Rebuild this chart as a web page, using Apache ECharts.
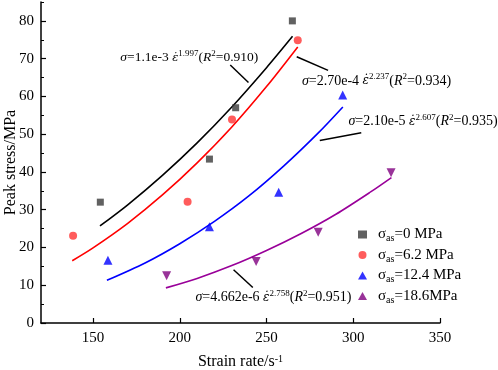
<!DOCTYPE html>
<html><head><meta charset="utf-8">
<script src="https://cdn.jsdelivr.net/npm/echarts@6/dist/echarts.min.js"></script>
<style>html,body{margin:0;padding:0;background:#fff}#c{width:498px;height:370px}</style>
</head><body><div id="c"></div>
<script>
// ---- data ----
const xTicks = [150, 200, 250, 300, 350];
const yTicks = [0, 10, 20, 30, 40, 50, 60, 70, 80];
const groupLabels = ['0 MPa', '6.2 MPa', '12.4 MPa', '18.6MPa'];

const s0X = [154.2, 217.1, 232.2, 264.9], s0Y = [32.0, 43.4, 57.0, 80.0];
const s1X = [138.5, 204.5, 230.1, 268.0], s1Y = [23.1, 32.1, 53.9, 74.9];
const s2X = [158.6, 217.1, 257.0, 293.9], s2Y = [16.6, 25.5, 34.6, 60.4];
const s3X = [192.4, 244.0, 279.8, 321.8], s3Y = [12.5, 16.3, 24.0, 39.8];

const fit0X = [154, 170, 190, 210, 230, 250, 265];
const fit0Y = [25.7, 31.3, 39.1, 47.7, 57.2, 67.6, 75.9];
const fit1X = [138, 150, 170, 190, 210, 230, 250, 268];
const fit1Y = [16.5, 19.9, 26.4, 33.9, 42.4, 51.9, 62.6, 73.1];
const fit2X = [158, 180, 200, 220, 240, 260, 280, 294];
const fit2Y = [11.3, 15.9, 21.0, 26.9, 33.7, 41.6, 50.4, 57.2];
const fit3X = [192, 210, 230, 250, 270, 290, 310, 322];
const fit3Y = [9.3, 11.8, 15.2, 19.2, 23.7, 28.8, 34.7, 38.5];

const fitCoef = ['1.1e-3', '2.70e-4', '2.10e-5', '4.662e-6'];
const fitExp = ['1.997', '2.237', '2.607', '2.758'];
const fitR2 = ['0.910', '0.934', '0.935', '0.951'];

// annotation placement (data coordinates)
const labelAt = [[205.5, 70.2], [313.4, 64.1], [340.2, 53.3], [254, 6.7]];
const leaderFrom = [[229.1, 68.3], [267.4, 70.5], [280.7, 48.3], [231, 14.1]];
const leaderTo = [[239.6, 63.7], [285.5, 66.9], [304.6, 50.4], [242.1, 9.4]];

// ---- build ----
const zip = (a, b) => a.map((v, i) => [v, b[i]]);
const scatX = [s0X, s1X, s2X, s3X], scatY = [s0Y, s1Y, s2Y, s3Y];
const fitX = [fit0X, fit1X, fit2X, fit3X], fitY = [fit0Y, fit1Y, fit2Y, fit3Y];
const markerColors = ['#3a3a3a', '#ff3333', '#0000ff', '#800080'];
const lineColors = ['#000000', '#ff0000', '#0000ff', '#990099'];
const symbols = ['rect', 'circle', 'triangle', 'triangle'];
const symRot = [0, 0, 0, 180];
const symSize = [7, 8, 9, 9];
const serif = '"Liberation Serif", "Times New Roman", serif';
const eqSize = [13.5, 14, 14, 14];

function richEq(fs) {
  return {
    i: { fontFamily: serif, fontSize: fs, fontStyle: 'italic', color: '#000', lineHeight: 18 },
    e: { fontFamily: '"DejaVu Serif", serif', fontSize: fs - 2, fontStyle: 'italic', color: '#000', lineHeight: 18 },
    n: { fontFamily: serif, fontSize: fs, color: '#000', lineHeight: 18 },
    sup: { fontFamily: serif, fontSize: 9, color: '#000', lineHeight: 11, verticalAlign: 'top' }
  };
}

const series = [];
for (let k = 0; k < 4; k++) {
  series.push({
    name: 's' + k, type: 'scatter', data: zip(scatX[k], scatY[k]),
    symbol: symbols[k], symbolRotate: symRot[k], symbolSize: symSize[k],
    itemStyle: { color: markerColors[k] }, z: 3
  });
}
for (let k = 0; k < 4; k++) {
  const txt = '{i|σ}{n|=' + fitCoef[k] + ' }{e|\u03B5\u0307}{sup|' + fitExp[k] + '}{n|(}{i|R}{sup|2}{n|=' + fitR2[k] + ')}';
  series.push({
    name: 'fit' + k, type: 'line', data: zip(fitX[k], fitY[k]), smooth: 0.3,
    showSymbol: false, lineStyle: { color: lineColors[k], width: 1.6 }, z: 2,
    markLine: {
      silent: true, symbol: ['none', 'none'], label: { show: false },
      lineStyle: { color: '#000', width: 1.5, type: 'solid' },
      data: [[{ coord: leaderFrom[k] }, { coord: leaderTo[k] }]]
    },
    markPoint: {
      silent: true, symbol: 'circle', symbolSize: 0,
      data: [{ coord: labelAt[k], label: { show: true, position: 'inside', formatter: txt, rich: richEq(eqSize[k]) } }]
    }
  });
}

const chart = echarts.init(document.getElementById('c'), null, { renderer: 'canvas' });
chart.setOption({
  animation: false,
  backgroundColor: '#fff',
  grid: { left: 41, right: 58, top: 2, bottom: 47, containLabel: false, outerBoundsMode: 'none' },
  legend: {
    data: ['s0', 's1', 's2', 's3'], orient: 'vertical', left: 353, top: 222,
    itemWidth: 9, itemHeight: 8, itemGap: 4,
    formatter: function (name) { const k = +name.slice(1); return '{g|}{s|σ}{sub|as}{s|=' + groupLabels[k] + '}'; },
    textStyle: {
      rich: {
        g: { width: 6, lineHeight: 18 },
        s: { fontFamily: serif, fontSize: 15, color: '#000', lineHeight: 18 },
        sub: { fontFamily: serif, fontSize: 10, color: '#000', lineHeight: 10, verticalAlign: 'bottom' }
      }
    }
  },
  xAxis: {
    type: 'value', min: 120, max: 350,
    name: 'Strain rate/s{sup|-1}', nameLocation: 'middle', nameGap: 31, nameMoveOverlap: false,
    nameTextStyle: { fontFamily: serif, fontSize: 16, color: '#000',
      rich: { sup: { fontFamily: serif, fontSize: 10, color: '#000', verticalAlign: 'top', lineHeight: 10 } } },
    axisLine: { lineStyle: { color: '#000', width: 1.5 } },
    axisTick: { inside: true, length: 5, customValues: xTicks, lineStyle: { color: '#000', width: 1.2 } },
    axisLabel: { customValues: xTicks, fontFamily: serif, fontSize: 15, color: '#000', margin: 8 },
    splitLine: { show: false }
  },
  yAxis: [{
    type: 'value', min: 0, max: 85,
    name: 'Peak stress/MPa', nameLocation: 'middle', nameGap: 22, nameMoveOverlap: false,
    nameTextStyle: { fontFamily: serif, fontSize: 16, color: '#000' },
    axisLine: { show: true, lineStyle: { color: '#000', width: 1.5 } },
    axisTick: { inside: true, length: 5, customValues: yTicks, lineStyle: { color: '#000', width: 1.2 } },
    axisLabel: { customValues: yTicks, fontFamily: serif, fontSize: 15, color: '#000', margin: 7 },
    splitLine: { show: false }
  }, {
    type: 'value', min: 0, max: 85, interval: 5, position: 'left',
    axisLine: { show: false }, axisLabel: { show: false }, splitLine: { show: false },
    axisTick: { show: true, inside: true, length: 3, lineStyle: { color: '#000', width: 1 } }
  }],
  series: series
});
</script>
</body></html>
